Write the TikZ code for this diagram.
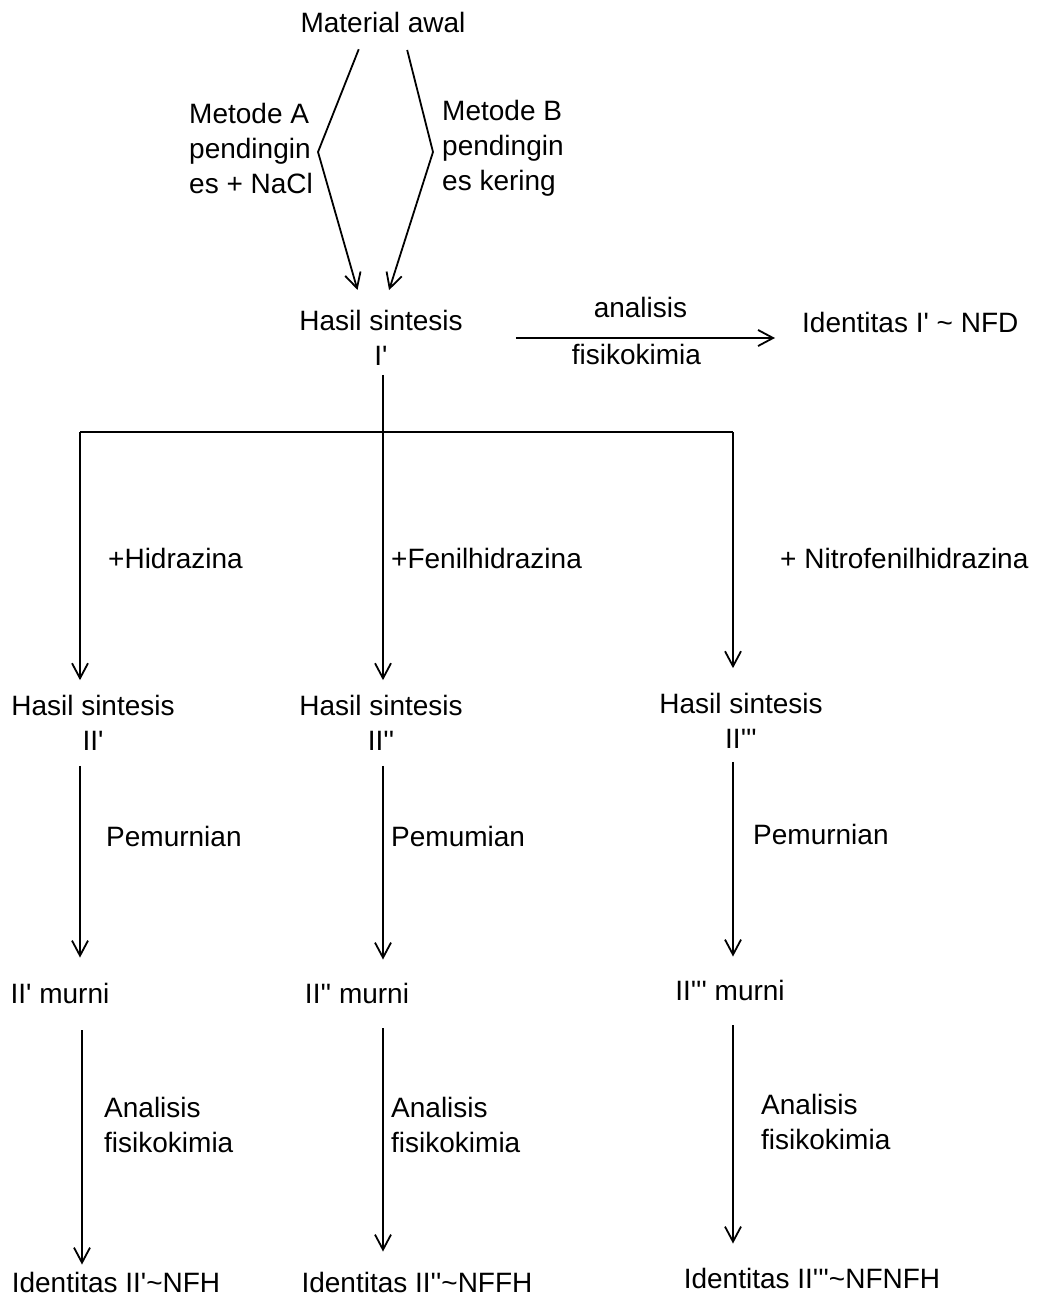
\documentclass[tikz,border=0pt]{standalone}
\usepackage{fontspec}
\newfontfamily\lfont{Liberation Sans}[Ligatures=TeXOff]
\usetikzlibrary{arrows.meta}
\begin{document}
\begin{tikzpicture}[x=1pt,y=-1pt]
\tikzset{
  lbl/.style={font=\lfont\fontsize{28}{35}\selectfont, inner sep=1pt},
  arr/.style={line width=1.8pt, -{Straight Barb[length=15pt,width=16pt,line width=1.8pt]}},
  ln/.style={line width=1.8pt}
}
\useasboundingbox (0,0) rectangle (1039,1298);
% top
\node[lbl] (mat) at (383,22) {Material awal};
\node[lbl, align=left, anchor=west] (ma) at (188,148) {Metode A\\pendingin\\es + NaCl};
\node[lbl, align=left, anchor=west] (mb) at (441,148) {Metode B\\pendingin\\es kering};
\node[lbl, align=center] (h1) at (381,338) {Hasil sintesis\\I'};
\node[lbl, anchor=west] (id1) at (801,322) {Identitas I' \textasciitilde{} NFD};
\coordinate (ka) at (318,152);
\coordinate (kb) at (433,152);
\draw[arr, shorten <=17pt, shorten >=20pt] ([xshift=-18pt]mat.south) -- (ka) -- ([xshift=-18pt]h1.north);
\draw[arr, shorten <=17pt, shorten >=20pt] ([xshift=20pt]mat.south) -- (kb) -- ([xshift=2pt]h1.north);
\draw[arr, shorten <=52pt, shorten >=26pt] (h1.east) -- (h1.east -| id1.west)
  node[lbl, midway, above=18pt, xshift=8pt] (an1) {analisis}
  node[lbl, midway, below=4pt, xshift=4pt] (fk1) {fisikokimia};
% split
\coordinate (j) at (383,432);
\coordinate (jl) at (80,432);
\coordinate (jr) at (733,432);
\draw[ln, shorten <=8pt] (h1.south -| j) -- (j);
\draw[ln] (jl) -- (jr);
\node[lbl, anchor=west] (r1) at (107,558) {+Hidrazina};
\node[lbl, anchor=west] (r2) at (390,558) {+Fenilhidrazina};
\node[lbl, anchor=west] (r3) at (779,558) {+ Nitrofenilhidrazina};
% row 2
\node[lbl, align=center] (h2a) at (93,723) {Hasil sintesis\\II'};
\node[lbl, align=center] (h2b) at (381,723) {Hasil sintesis\\II''};
\node[lbl, align=center] (h2c) at (741,721) {Hasil sintesis\\II'''};
\draw[arr, shorten >=14pt] (jl) -- (jl |- h2a.north);
\draw[arr, shorten >=14pt] (j) -- (j |- h2b.north);
\draw[arr, shorten >=24pt] (jr) -- (jr |- h2c.north);
% row 3
\node[lbl] (m1) at (60,993) {II' murni};
\node[lbl] (m2) at (357,993) {II'' murni};
\node[lbl] (m3) at (730,990) {II''' murni};
\node[lbl, anchor=west] (p1) at (105,836) {Pemurnian};
\node[lbl, anchor=west] (p2) at (390,836) {Pemumian};
\node[lbl, anchor=west] (p3) at (752,834) {Pemurnian};
\draw[arr, shorten <=14pt, shorten >=24pt] (h2a.south -| jl) -- (m1.north -| jl);
\draw[arr, shorten <=14pt, shorten >=22pt] (h2b.south -| j) -- (m2.north -| j);
\draw[arr, shorten <=12pt, shorten >=22pt] (h2c.south -| jr) -- (m3.north -| jr);
% row 4
\coordinate (cl) at (82,0);
\node[lbl] (id2) at (116,1282) {Identitas II'\textasciitilde NFH};
\node[lbl] (id3) at (417,1282) {Identitas II''\textasciitilde NFFH};
\node[lbl] (id4) at (812,1278) {Identitas II'''\textasciitilde NFNFH};
\node[lbl, anchor=west, align=left] (a1) at (103,1125) {Analisis\\fisikokimia};
\node[lbl, anchor=west, align=left] (a2) at (390,1125) {Analisis\\fisikokimia};
\node[lbl, anchor=west, align=left] (a3) at (760,1122) {Analisis\\fisikokimia};
\draw[arr, shorten <=26pt, shorten >=6pt] (m1.south -| cl) -- (id2.north -| cl);
\draw[arr, shorten <=24pt, shorten >=19pt] (m2.south -| j) -- (id3.north -| j);
\draw[arr, shorten <=24pt, shorten >=23pt] (m3.south -| jr) -- (id4.north -| jr);
\end{tikzpicture}
\end{document}
